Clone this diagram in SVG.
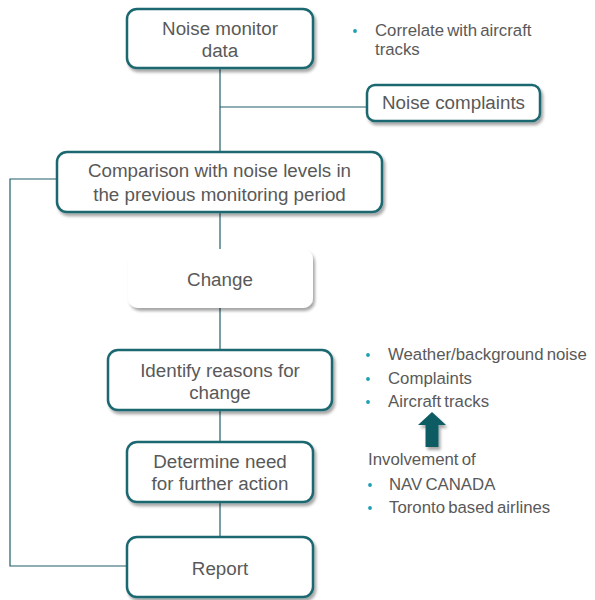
<svg xmlns="http://www.w3.org/2000/svg" width="595" height="600" viewBox="0 0 595 600">
<defs>
<filter id="sh" x="-10%" y="-10%" width="125%" height="135%">
<feDropShadow dx="2" dy="3" stdDeviation="1.5" flood-color="#000" flood-opacity="0.35"/>
</filter>
</defs>
<style>
.box{fill:#fff;stroke:#1b6770;stroke-width:2.5;filter:url(#sh)}
.plain{fill:#fff;stroke:none;filter:url(#sh)}
.t{font-family:"Liberation Sans",Arial,sans-serif;font-size:18.8px;fill:#595959;text-anchor:middle}
.b{font-family:"Liberation Sans",Arial,sans-serif;font-size:16.8px;fill:#595959;word-spacing:-1.5px}
.dot{fill:#1aa0b2}
.ln{fill:none;stroke:#1f5f68;stroke-width:1.2}
</style>
<rect width="595" height="600" fill="#fff"/>
<g id="connectors">
<line class="ln" x1="220" y1="68" x2="220" y2="152"/>
<line class="ln" x1="220" y1="107" x2="367" y2="107"/>
<line class="ln" x1="220" y1="212" x2="220" y2="249"/>
<line class="ln" x1="220" y1="308" x2="220" y2="350"/>
<line class="ln" x1="220" y1="410" x2="220" y2="442"/>
<line class="ln" x1="220" y1="502" x2="220" y2="537"/>
<polyline class="ln" points="57,179 10,179 10,566 127,566"/>
</g>
<g id="n1">
<rect class="box" x="127" y="9" width="186" height="59" rx="10"/>
<text class="t" x="220" y="35">Noise monitor</text>
<text class="t" x="220" y="57">data</text>
</g>
<g id="note1">
<circle class="dot" cx="355" cy="31" r="1.9"/>
<text class="b" x="375" y="36">Correlate with aircraft</text>
<text class="b" x="375" y="55">tracks</text>
</g>
<g id="n2">
<rect class="box" x="367" y="85" width="173" height="36" rx="8"/>
<text class="t" x="453.5" y="109">Noise complaints</text>
</g>
<g id="n3">
<rect class="box" x="57" y="152" width="325" height="60" rx="10"/>
<text class="t" x="219.5" y="177">Comparison with noise levels in</text>
<text class="t" x="219.5" y="201">the previous monitoring period</text>
</g>
<g id="n4">
<rect class="plain" x="128" y="249" width="185" height="59" rx="10"/>
<text class="t" x="220" y="286">Change</text>
</g>
<g id="n5">
<rect class="box" x="108" y="350" width="224" height="60" rx="10"/>
<text class="t" x="220" y="377">Identify reasons for</text>
<text class="t" x="220" y="399">change</text>
</g>
<g id="note2">
<circle class="dot" cx="368" cy="355" r="1.9"/>
<text class="b" x="388" y="360">Weather/background noise</text>
<circle class="dot" cx="368" cy="379" r="1.9"/>
<text class="b" x="388" y="384">Complaints</text>
<circle class="dot" cx="368" cy="402" r="1.9"/>
<text class="b" x="388" y="407">Aircraft tracks</text>
</g>
<g id="arrow">
<polygon points="432,412 446,425 438.5,425 438.5,447 425.5,447 425.5,425 418,425" fill="#0f5c64" filter="url(#sh)"/>
</g>
<g id="n6">
<rect class="box" x="127" y="442" width="186" height="60" rx="10"/>
<text class="t" x="220" y="468">Determine need</text>
<text class="t" x="220" y="490">for further action</text>
</g>
<g id="note3">
<text class="b" x="368" y="465">Involvement of</text>
<circle class="dot" cx="370" cy="485" r="1.9"/>
<text class="b" x="389" y="490">NAV CANADA</text>
<circle class="dot" cx="370" cy="508" r="1.9"/>
<text class="b" x="389" y="513">Toronto based airlines</text>
</g>
<g id="n7">
<rect class="box" x="127" y="537" width="186" height="60" rx="10"/>
<text class="t" x="220" y="575">Report</text>
</g>
</svg>
